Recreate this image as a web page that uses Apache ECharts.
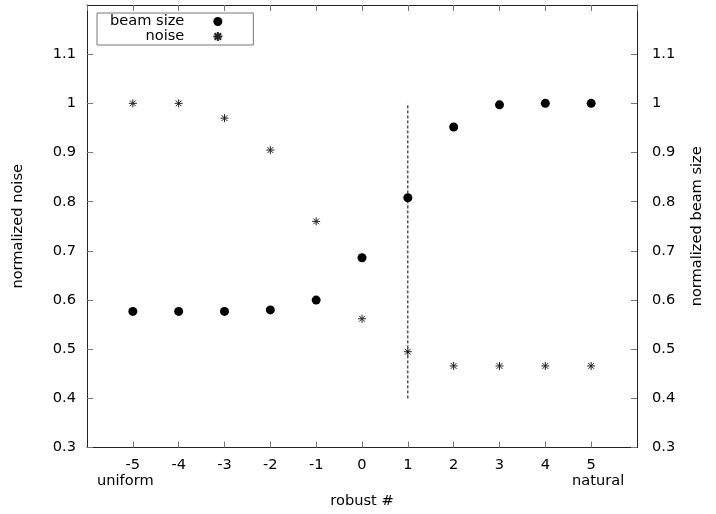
<!DOCTYPE html>
<html>
<head>
<meta charset="utf-8">
<script src="https://cdn.jsdelivr.net/npm/echarts@6/dist/echarts.min.js"></script>
<style>html,body{margin:0;padding:0;background:#fff}#c{width:716px;height:514px}</style>
</head>
<body>
<div id="c"></div>
<script>
var robust = [-5, -4, -3, -2, -1, 0, 1, 2, 3, 4, 5];
var beamSize = [0.577, 0.577, 0.577, 0.580, 0.600, 0.686, 0.808, 0.952, 0.997, 1.000, 1.000];
var noise = [1.000, 1.000, 0.970, 0.905, 0.760, 0.562, 0.495, 0.466, 0.466, 0.466, 0.466];
var markerX = [1, 1];
var markerY = [0.4, 1.0];
var yTicks = [0.3, 0.4, 0.5, 0.6, 0.7, 0.8, 0.9, 1.0, 1.1];

var FONT = '"DejaVu Sans", Verdana, sans-serif';
var FS = 14.6;
var star = 'path://M0,-1L0,1M-1,0L1,0M-0.72,-0.72L0.72,0.72M-0.72,0.72L0.72,-0.72';

function pairs(xs, ys) { return xs.map(function (x, i) { return [x, ys[i]]; }); }

var chart = echarts.init(document.getElementById('c'), null, { renderer: 'canvas' });

var yAxisBase = function (pos, name, gap, labelMargin) {
  return {
    type: 'value', position: pos, min: 0.3, max: 1.2, interval: 0.1,
    name: name, nameLocation: 'middle', nameGap: gap, nameRotate: 90,
    nameTextStyle: { fontFamily: FONT, fontSize: FS, color: '#000' },
    axisLine: { show: true, onZero: false, lineStyle: { color: '#222', width: 1 } },
    axisTick: { show: true, inside: true, length: 6, lineStyle: { color: '#777' } },
    axisLabel: {
      margin: labelMargin, fontFamily: FONT, fontSize: FS, color: '#000', showMaxLabel: false,
      formatter: function (v) { return yTicks.some(function (t) { return Math.abs(t - v) < 1e-6; }) ? String(+v.toFixed(1)) : ''; }
    },
    splitLine: { show: false }
  };
};

chart.setOption({
  animation: false,
  backgroundColor: '#fff',
  grid: { left: 87, right: 79, top: 5, bottom: 54, containLabel: false },
  legend: {
    orient: 'vertical', left: 97, top: 13, align: 'right',
    padding: [1, 30, 1, 13], itemGap: 0, itemWidth: 9, itemHeight: 9,
    borderColor: '#777', borderWidth: 1,
    textStyle: { fontFamily: FONT, fontSize: FS, color: '#000', lineHeight: 15, padding: [0, 24, 0, 0] },
    data: ['beam size', 'noise']
  },
  xAxis: [{
    type: 'value', position: 'bottom', min: -6, max: 6, interval: 1,
    name: 'robust #', nameLocation: 'middle', nameGap: 36,
    nameTextStyle: { fontFamily: FONT, fontSize: FS, color: '#000' },
    axisLine: { show: true, onZero: false, lineStyle: { color: '#222', width: 1 } },
    axisTick: { show: true, inside: true, length: 6, lineStyle: { color: '#777' } },
    axisLabel: {
      margin: 10, fontFamily: FONT, fontSize: FS, color: '#000', showMinLabel: false, showMaxLabel: false,
      formatter: function (v) {
        if (v === -5) return '{n|-5}\n{u|uniform}';
        if (v === 5) return '{n|5}\n{r|natural}';
        return '{n|' + v + '}';
      },
      rich: {
        n: { fontFamily: FONT, fontSize: FS, color: '#000', lineHeight: 16 },
        u: { fontFamily: FONT, fontSize: FS, color: '#000', lineHeight: 16, padding: [0, 15, 0, 0] },
        r: { fontFamily: FONT, fontSize: FS, color: '#000', lineHeight: 16, padding: [0, 0, 0, 14] }
      }
    },
    splitLine: { show: false }
  }, {
    type: 'value', position: 'top', min: -6, max: 6, interval: 1,
    axisLine: { show: true, onZero: false, lineStyle: { color: '#222', width: 1 } },
    axisTick: { show: true, inside: true, length: 6, lineStyle: { color: '#777' } },
    axisLabel: { show: false },
    splitLine: { show: false }
  }],
  yAxis: [yAxisBase('left', 'normalized noise', 61, 11), yAxisBase('right', 'normalized beam size', 53, 15)],
  series: [{
    name: 'beam size', type: 'scatter', xAxisIndex: 0, yAxisIndex: 1,
    symbol: 'circle', symbolSize: 9,
    itemStyle: { color: '#000', opacity: 1 },
    data: pairs(robust, beamSize)
  }, {
    name: 'noise', type: 'scatter', xAxisIndex: 0, yAxisIndex: 0,
    symbol: star, symbolSize: 8,
    itemStyle: { color: 'transparent', borderColor: '#222', borderWidth: 1, opacity: 1 },
    data: pairs(robust, noise)
  }, {
    name: 'robust=1', type: 'line', xAxisIndex: 0, yAxisIndex: 0,
    showSymbol: false, symbol: 'none', silent: true,
    lineStyle: { color: '#000', width: 1, type: [3, 2] },
    data: pairs(markerX, markerY)
  }]
});
</script>
</body>
</html>
